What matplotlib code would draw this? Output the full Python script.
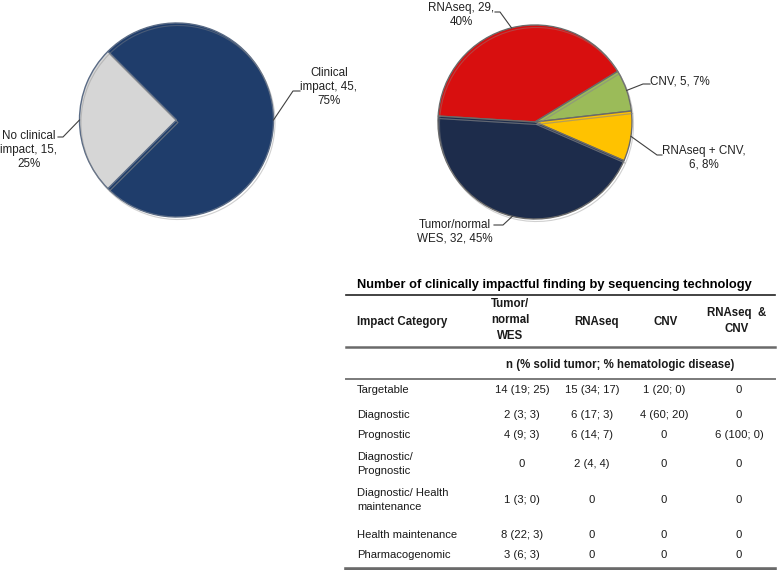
import numpy as np
import matplotlib
matplotlib.use("Agg")
import matplotlib.pyplot as plt

plt.rcParams['font.family'] = ['Liberation Sans', 'DejaVu Sans']

# ---------------- data ----------------
impact_labels = ["Clinical\nimpact, 45,\n75%", "No clinical\nimpact, 15,\n25%"]
impact_values = [45, 15]
impact_colors = ["#1f3d6b", "#d6d6d6"]

tech_labels = ["RNAseq, 29,\n40%", "CNV, 5, 7%", "RNAseq + CNV,\n6, 8%", "Tumor/normal\nWES, 32, 45%"]
tech_values = [29, 5, 6, 32]
tech_colors = ["#d80f0f", "#9bbb59", "#ffc200", "#1d2c4b"]

table_title = "Number of clinically impactful finding by sequencing technology"
col_headers = ["Impact Category", "Tumor/\nnormal\nWES", "RNAseq", "CNV", "RNAseq  &\nCNV"]
sub_header = "n (% solid tumor; % hematologic disease)"
categories = ["Targetable", "Diagnostic", "Prognostic", "Diagnostic/\nPrognostic",
              "Diagnostic/ Health\nmaintenance", "Health maintenance", "Pharmacogenomic"]
wes_vals = ["14 (19; 25)", "2 (3; 3)", "4 (9; 3)", "0", "1 (3; 0)", "8 (22; 3)", "3 (6; 3)"]
rnaseq_vals = ["15 (34; 17)", "6 (17; 3)", "6 (14; 7)", "2 (4, 4)", "0", "0", "0"]
cnv_vals = ["1 (20; 0)", "4 (60; 20)", "0", "0", "0", "0", "0"]
both_vals = ["0", "0", "6 (100; 0)", "0", "0", "0", "0"]

# ---------------- figure ----------------
W, H = 778, 570
fig = plt.figure(figsize=(W / 100, H / 100), dpi=100)
ax = fig.add_axes([0, 0, 1, 1])
ax.set_xlim(0, W)
ax.set_ylim(0, H)
ax.axis('off')


def Y(y):
    return H - y


FS = 8.1
PFS = 8.4
BFS = 8.3


def draw_pie(values, colors, center, radius, startangle, counterclock, edge):
    wedges, _ = ax.pie(values, colors=colors, startangle=startangle,
                       counterclock=counterclock, center=center, radius=radius,
                       frame=True,
                       wedgeprops=dict(edgecolor=edge, linewidth=1.0))
    # bevel-like soft shadow rim
    ax.pie(values, colors=['none'] * len(values), startangle=startangle,
           counterclock=counterclock, center=(center[0] + 1.5, center[1] - 2.5),
           radius=radius, frame=True,
           wedgeprops=dict(edgecolor='#8a8a8a', linewidth=0.8, fill=False, alpha=0.4))
    return wedges


def anchor(w, center, radius):
    th = np.deg2rad((w.theta1 + w.theta2) / 2)
    return center[0] + radius * np.cos(th), center[1] + radius * np.sin(th)


# left pie
c1 = (176.5, Y(120))
r1 = 97
w1 = draw_pie(impact_values, impact_colors, c1, r1, 225, True, '#5a6b85')

# right pie
c2 = (535, Y(122))
r2 = 97
w2 = draw_pie(tech_values, tech_colors, c2, r2, 176.5, False, '#6a6a6a')

ax.set_xlim(0, W)
ax.set_ylim(0, H)
ax.set_aspect('auto')
ax.axis('off')

lc = '#404040'
tcol = '#222222'

# left pie labels
ax_, ay_ = anchor(w1[0], c1, r1)
ax.plot([ax_, 293, 300], [ay_, Y(91), Y(91)], color=lc, lw=0.8)
ax.text(329, Y(87), impact_labels[0], ha='center', va='center', fontsize=PFS,
        linespacing=1.2, color=tcol)
ax_, ay_ = anchor(w1[1], c1, r1)
ax.plot([ax_, 63, 58], [ay_, Y(137), Y(137)], color=lc, lw=0.8)
ax.text(29, Y(150), impact_labels[1], ha='center', va='center', fontsize=PFS,
        linespacing=1.2, color=tcol)

# right pie labels
a = anchor(w2[0], c2, r2)
ax.plot([a[0], 500, 495], [a[1], Y(12), Y(12)], color=lc, lw=0.8)
ax.text(461, Y(15), tech_labels[0], ha='center', va='center', fontsize=PFS,
        linespacing=1.2, color=tcol)
a = anchor(w2[1], c2, r2)
ax.plot([a[0], 643, 650], [a[1], Y(84), Y(84)], color=lc, lw=0.8)
ax.text(650, Y(81), tech_labels[1], ha='left', va='center', fontsize=PFS,
        color=tcol)
a = anchor(w2[2], c2, r2)
ax.plot([a[0], 657, 662], [a[1], Y(155), Y(155)], color=lc, lw=0.8)
ax.text(704, Y(158), tech_labels[2], ha='center', va='center', fontsize=PFS,
        linespacing=1.2, color=tcol)
a = anchor(w2[3], c2, r2)
ax.plot([a[0], 503, 494], [a[1], Y(225), Y(225)], color=lc, lw=0.8)
ax.text(455, Y(232), tech_labels[3], ha='center', va='center', fontsize=PFS,
        linespacing=1.2, color=tcol)

# ---------------- table ----------------
x0, x1 = 346, 775
tc = '#1a1a1a'
ax.text(357, Y(285), table_title, ha='left', va='center', fontsize=9.3,
        fontweight='bold', color='black')
ax.plot([x0, x1], [Y(295), Y(295)], color='#222222', lw=1.2)

col_x_head = [357, 510, 597, 666, 737]
head_y = [322, 320, 322, 322, 321]
for i, (hx, hy, ht) in enumerate(zip(col_x_head, head_y, col_headers)):
    ax.text(hx, Y(hy), ht, ha='left' if i == 0 else 'center', va='center',
            fontsize=BFS, fontweight='bold', linespacing=1.45, color=tc)
ax.plot([x0, x1], [Y(347), Y(347)], color='#6a6a6a', lw=1.8)
ax.text(620, Y(365), sub_header, ha='center', va='center', fontsize=BFS,
        fontweight='bold', color=tc)
ax.plot([x0, x1], [Y(379), Y(379)], color='#7a7a7a', lw=1.4)

row_y = [390, 415, 435, 464, 500, 535, 555]
col_x = [522, 592, 664, 739]
for i, cat in enumerate(categories):
    yy = Y(row_y[i])
    ax.text(357, yy, cat, ha='left', va='center', fontsize=FS, linespacing=1.55,
            color=tc)
    for cx, vals in zip(col_x, [wes_vals, rnaseq_vals, cnv_vals, both_vals]):
        ax.text(cx, yy, vals[i], ha='center', va='center', fontsize=FS, color=tc)
ax.plot([x0, x1], [Y(568.5), Y(568.5)], color='#6a6a6a', lw=2.6)

fig.savefig("out.png", dpi=100)
